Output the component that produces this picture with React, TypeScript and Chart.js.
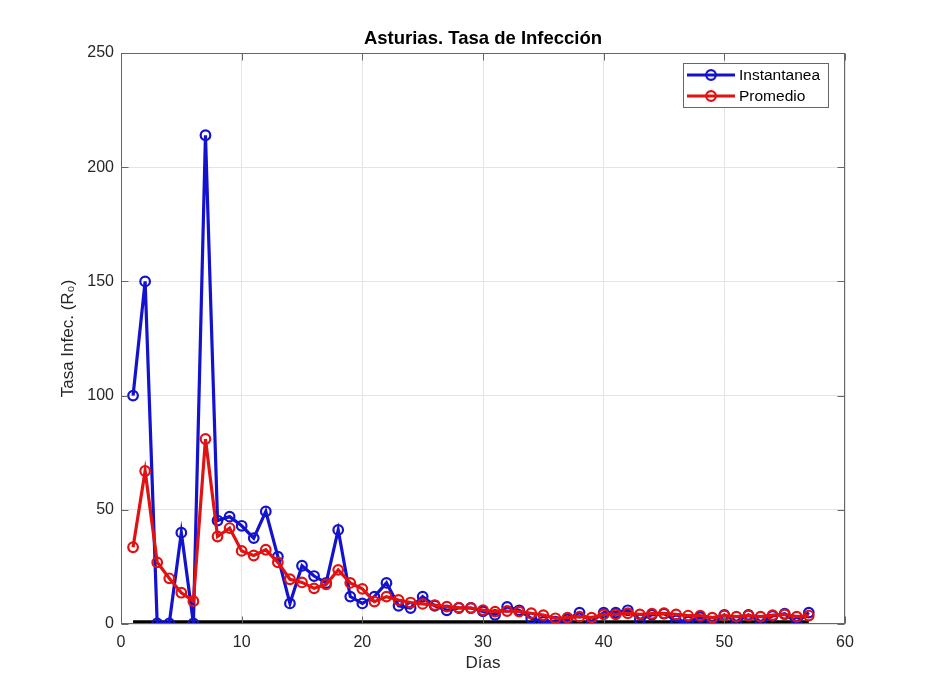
import React, { useEffect, useRef } from 'react';
import { Chart, registerables } from 'chart.js';

Chart.register(...registerables);

const days = [1, 2, 3, 4, 5, 6, 7, 8, 9, 10, 11, 12, 13, 14, 15, 16, 17, 18, 19, 20, 21, 22, 23, 24, 25, 26, 27, 28, 29, 30, 31, 32, 33, 34, 35, 36, 37, 38, 39, 40, 41, 42, 43, 44, 45, 46, 47, 48, 49, 50, 51, 52, 53, 54, 55, 56, 57];

const instantanea = [100, 150, 0.3, 0.3, 40, 0.3, 214, 45.3, 47, 43, 37.6, 49.3, 29.5, 9, 25.5, 21, 18, 41.2, 12, 9, 12, 18, 8, 7, 12, 8, 6, 7, 7, 5.5, 4, 7.5, 6, 2.5, 1, 1, 2, 5, 1, 5, 5, 6, 2, 4, 4.5, 1.5, 1, 3, 0.5, 4, 1, 4, 1, 3.5, 4.5, 0.5, 5];

const promedio = [33.6, 67, 27, 20, 13.7, 10, 81, 38.3, 42, 32, 30, 32.5, 27, 19.6, 18.2, 15.6, 17.4, 23.7, 18, 15.4, 9.8, 12, 10.5, 9.4, 8.8, 8.3, 7.6, 7.2, 7, 6.1, 5.4, 5.7, 5.4, 4.7, 3.9, 2.5, 2.8, 3.2, 2.8, 4.2, 4.2, 4.7, 4.2, 4.5, 4.7, 4.2, 3.7, 3.7, 2.8, 3.7, 3.2, 3.7, 3.2, 3.9, 4.2, 3.2, 3.7];

const umbralDays = [1, 57];
const umbralValues = [1, 1];

const xTicks = [0, 10, 20, 30, 40, 50, 60];
const yTicks = [0, 50, 100, 150, 200, 250];

const seriesLabels = ['Instantanea', 'Promedio'];
const seriesColors = ['#1212cf', '#e01212'];

const titleText = 'Asturias. Tasa de Infección';
const xTitle = 'Días';
const yTitle = 'Tasa Infec. (R\u2080)';

const FONT = '"Liberation Sans", Arial, Helvetica, sans-serif';
const AXIS_COLOR = '#666666';

const boxPlugin = {
  id: 'matlabBox',
  afterDatasetsDraw(chart: any) {
    const { ctx, chartArea: ca, scales } = chart;
    ctx.save();
    ctx.strokeStyle = AXIS_COLOR;
    ctx.lineWidth = 1;
    const l = Math.round(ca.left) + 0.5;
    const r = Math.round(ca.right) - 0.5;
    const t = Math.round(ca.top) + 0.5;
    const b = Math.round(ca.bottom) - 0.5;
    ctx.strokeRect(l, t, r - l, b - t);
    const tl = 7;
    ctx.beginPath();
    xTicks.forEach((v) => {
      const px = Math.round(scales.x.getPixelForValue(v)) + 0.5;
      ctx.moveTo(px, b);
      ctx.lineTo(px, b - tl);
      ctx.moveTo(px, t);
      ctx.lineTo(px, t + tl);
    });
    yTicks.forEach((v) => {
      const py = Math.round(scales.y.getPixelForValue(v)) + 0.5;
      ctx.moveTo(l, py);
      ctx.lineTo(l + tl, py);
      ctx.moveTo(r, py);
      ctx.lineTo(r - tl, py);
    });
    ctx.stroke();
    ctx.restore();
  },
  afterDraw(chart: any) {
    const { ctx, chartArea: ca } = chart;
    ctx.save();
    // title centred over the plot area
    ctx.fillStyle = '#000000';
    ctx.font = `bold 18.5px ${FONT}`;
    ctx.textAlign = 'center';
    ctx.textBaseline = 'middle';
    ctx.fillText(titleText, (ca.left + ca.right) / 2, ca.top - 14);

    // legend box
    const w = 145;
    const h = 44;
    const x0 = Math.round(ca.right) - 17 - w;
    const y0 = Math.round(ca.top) + 10;
    ctx.fillStyle = '#ffffff';
    ctx.fillRect(x0, y0, w, h);
    ctx.strokeStyle = AXIS_COLOR;
    ctx.lineWidth = 1;
    ctx.strokeRect(x0 + 0.5, y0 + 0.5, w, h);
    seriesLabels.forEach((label, i) => {
      const cy = y0 + 12 + i * 21;
      ctx.strokeStyle = seriesColors[i];
      ctx.lineWidth = 3;
      ctx.beginPath();
      ctx.moveTo(x0 + 4, cy);
      ctx.lineTo(x0 + 52, cy);
      ctx.stroke();
      ctx.lineWidth = 2.2;
      ctx.beginPath();
      ctx.arc(x0 + 28, cy, 4.8, 0, Math.PI * 2);
      ctx.stroke();
      ctx.fillStyle = '#000000';
      ctx.font = `15.5px ${FONT}`;
      ctx.textBaseline = 'middle';
      ctx.textAlign = 'left';
      ctx.fillText(label, x0 + 56, cy + 1);
    });
    ctx.restore();
  },
};

export default function App() {
  const ref = useRef<HTMLCanvasElement | null>(null);

  useEffect(() => {
    document.body.style.margin = '0';
    const canvas = ref.current;
    if (!canvas) return;
    const toPoints = (xs: number[], ys: number[]) => xs.map((x, i) => ({ x, y: ys[i] }));

    const chart = new Chart(canvas, {
      type: 'line',
      data: {
        datasets: [
          {
            label: seriesLabels[0],
            data: toPoints(days, instantanea),
            borderColor: seriesColors[0],
            backgroundColor: 'rgba(0,0,0,0)',
            borderWidth: 3.2,
            pointRadius: 4.8,
            pointBorderWidth: 2.2,
            pointBorderColor: seriesColors[0],
            pointBackgroundColor: 'rgba(0,0,0,0)',
            fill: false,
            tension: 0,
            order: 2,
          },
          {
            label: seriesLabels[1],
            data: toPoints(days, promedio),
            borderColor: seriesColors[1],
            backgroundColor: 'rgba(0,0,0,0)',
            borderWidth: 3.2,
            pointRadius: 4.8,
            pointBorderWidth: 2.2,
            pointBorderColor: seriesColors[1],
            pointBackgroundColor: 'rgba(0,0,0,0)',
            fill: false,
            tension: 0,
            order: 1,
          },
          {
            label: 'R0 = 1',
            data: toPoints(umbralDays, umbralValues),
            borderColor: '#000000',
            borderWidth: 3,
            pointRadius: 0,
            fill: false,
            order: 3,
          },
        ],
      },
      options: {
        responsive: false,
        animation: false,
        devicePixelRatio: 1,
        layout: { padding: { left: 0, right: 89, top: 53, bottom: 0 } },
        plugins: {
          legend: { display: false },
          tooltip: { enabled: false },
          title: { display: false },
        },
        scales: {
          x: {
            type: 'linear',
            min: 0,
            max: 60,
            afterBuildTicks: (scale: any) => {
              scale.ticks = xTicks.map((v) => ({ value: v }));
            },
            afterFit: (scale: any) => {
              scale.height = 76;
            },
            grid: { color: '#e4e4e4', lineWidth: 1, drawTicks: false },
            border: { display: false },
            ticks: {
              color: '#262626',
              font: { family: FONT, size: 16 },
              padding: 9,
              maxRotation: 0,
            },
            title: {
              display: true,
              text: xTitle,
              color: '#262626',
              font: { family: FONT, size: 17, lineHeight: 1.2 },
              padding: { top: 0, bottom: 26.8 },
            },
          },
          y: {
            type: 'linear',
            min: 0,
            max: 250,
            afterBuildTicks: (scale: any) => {
              scale.ticks = yTicks.map((v) => ({ value: v }));
            },
            afterFit: (scale: any) => {
              scale.width = 121;
            },
            grid: { color: '#e4e4e4', lineWidth: 1, drawTicks: false },
            border: { display: false },
            ticks: {
              color: '#262626',
              font: { family: FONT, size: 16 },
              padding: 7,
            },
            title: {
              display: true,
              text: yTitle,
              color: '#262626',
              font: { family: FONT, size: 17, lineHeight: 1.2 },
              padding: { top: 57.8, bottom: 0 },
            },
          },
        },
      },
      plugins: [boxPlugin],
    } as any);

    return () => chart.destroy();
  }, []);

  return (
    <div style={{ width: 934, height: 700, background: '#ffffff' }}>
      <canvas ref={ref} width={934} height={700} />
    </div>
  );
}
